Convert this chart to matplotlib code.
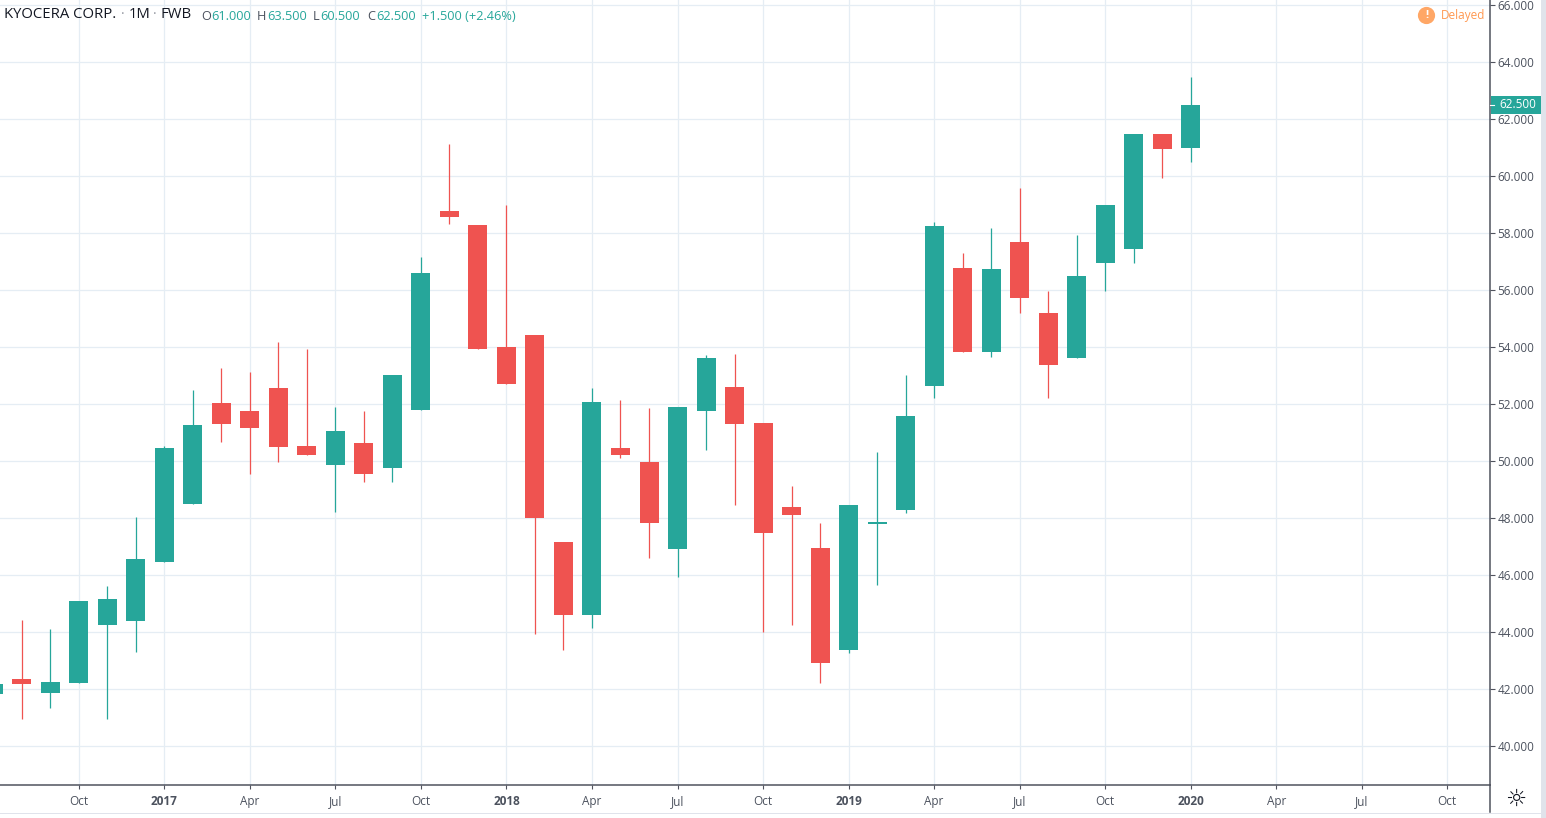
import matplotlib
matplotlib.use("Agg")
import matplotlib.pyplot as plt
from matplotlib.patches import Rectangle

plt.rcParams['font.family'] = ['Open Sans', 'DejaVu Sans']

W, H = 1546, 818
UP, DOWN = '#26a69a', '#ef5350'
GRID, INK, AXIS = '#e5edf4', '#4c525e', '#50535e'

months = list(range(-3, 40))
opens = [41.83, 42.37, 41.87, 42.23, 44.26, 44.40, 46.47, 48.51, 52.05, 51.77, 52.58, 50.54,
         49.87, 50.65, 49.77, 51.80, 58.79, 58.30, 54.02, 54.44, 47.17, 44.61, 50.47, 49.98,
         46.93, 51.77, 52.61, 51.35, 48.40, 46.96, 43.38, 47.80, 48.30, 52.65, 56.79, 53.84,
         57.70, 55.21, 53.63, 56.96, 57.45, 61.49, 60.98]
highs = [42.38, 44.44, 44.12, 45.10, 45.63, 48.05, 50.54, 52.51, 53.28, 53.14, 54.18, 53.94,
         51.91, 51.77, 53.03, 57.17, 61.14, 58.30, 58.98, 54.44, 47.17, 52.58, 52.16, 51.87,
         51.91, 53.73, 53.77, 51.35, 49.14, 47.84, 48.47, 50.33, 53.03, 58.40, 57.31, 58.19,
         59.59, 55.98, 57.94, 59.00, 61.49, 61.49, 63.5]
lows = [41.68, 40.96, 41.35, 42.23, 40.96, 43.31, 46.47, 48.51, 50.68, 49.56, 49.98, 50.23,
        48.23, 49.28, 49.28, 51.80, 58.33, 53.94, 52.72, 43.94, 43.38, 44.16, 50.12, 46.61,
        45.94, 50.40, 48.47, 44.02, 44.26, 42.23, 43.28, 45.66, 48.18, 52.23, 53.84, 53.66,
        55.21, 52.23, 53.63, 55.98, 56.96, 59.94, 60.5]
closes = [42.18, 42.19, 42.26, 45.10, 45.17, 46.58, 50.47, 51.28, 51.31, 51.17, 50.51, 50.23,
          51.07, 49.56, 53.03, 56.61, 58.58, 53.94, 52.72, 48.02, 44.61, 52.09, 50.23, 47.84,
          51.91, 53.63, 51.31, 47.49, 48.12, 42.93, 48.47, 47.88, 51.59, 58.26, 53.84, 56.75,
          55.73, 53.38, 56.51, 59.00, 61.49, 60.96, 62.5]

x_tick_pos = [0, 3, 6, 9, 12, 15, 18, 21, 24, 27, 30, 33, 36, 39, 42, 45, 48]
x_tick_labels = ['Oct', '2017', 'Apr', 'Jul', 'Oct', '2018', 'Apr', 'Jul', 'Oct',
                 '2019', 'Apr', 'Jul', 'Oct', '2020', 'Apr', 'Jul', 'Oct']
y_ticks = list(range(40, 68, 2))

fig = plt.figure(figsize=(W / 100, H / 100), dpi=100, facecolor='white')
ax = fig.add_axes([0, 1 - 785 / H, 1490 / W, 785 / H])

ax.set_axisbelow(True)
ax.grid(True, color=GRID, lw=0.9)
ax.set_xticks(x_tick_pos)
ax.set_xticklabels(x_tick_labels, fontsize=8.5, color=INK)
for lab, txt in zip(ax.get_xticklabels(), x_tick_labels):
    if txt.isdigit():
        lab.set_fontweight('bold')
ax.set_yticks(y_ticks)
ax.set_yticklabels([f'{v}.000' for v in y_ticks], fontsize=8.5, color=INK)
ax.yaxis.tick_right()
ax.tick_params(axis='x', length=3, width=0.8, color=AXIS, pad=4)
ax.tick_params(axis='y', length=3.5, width=0.8, color=AXIS, pad=2)
for s in ('top', 'left'):
    ax.spines[s].set_visible(False)
for s in ('right', 'bottom'):
    ax.spines[s].set_color(AXIS)
    ax.spines[s].set_linewidth(1.1)

colors = [UP if c >= o else DOWN for o, c in zip(opens, closes)]
ax.vlines(months, lows, highs, colors=colors, lw=0.9, zorder=3)
bottoms = [min(o, c) for o, c in zip(opens, closes)]
heights = [abs(c - o) for o, c in zip(opens, closes)]
ax.bar(months, heights, bottom=bottoms, width=19 / 28.51, color=colors, lw=0, zorder=4)

ax.set_xlim((0 - 78.8) / 28.51, (1490 - 78.8) / 28.51)
ax.set_ylim(62 - (785 - 119.4) / 28.5, 62 + 119.4 / 28.5)

def fx(px): return px / W
def fy(py): return 1 - py / H

# clipped label of the month left of the view
fig.text(fx(-6), fy(800), 'Jul', fontsize=8.5, color=INK, ha='center', va='center')

# legend row
fig.text(fx(4), fy(15), 'KYOCERA CORP.', fontsize=10.7, color='#131722', va='center')
fig.text(fx(129), fy(15), '1M', fontsize=10.7, color='#131722', va='center')
fig.text(fx(160.5), fy(15), 'FWB', fontsize=10.7, color='#131722', va='center')
fig.text(fx(121), fy(15), '·', fontsize=10, color='#9598a1', va='center')
fig.text(fx(153), fy(15), '·', fontsize=10, color='#9598a1', va='center')
row = [('O', 201.5), ('H', 257), ('L', 313), ('C', 367.5)]
vals = [('61.000', 211), ('63.500', 267), ('60.500', 320.5), ('62.500', 376.5)]
for t, x in row:
    fig.text(fx(x), fy(16), t, fontsize=9.2, color=INK, va='center')
for t, x in vals:
    fig.text(fx(x), fy(16), t, fontsize=9.2, color=UP, va='center')
fig.text(fx(422), fy(16), '+1.500 (+2.46%)', fontsize=9.2, color=UP, va='center')

# delayed badge
fig.text(fx(1426.5), fy(15.5), '!', fontsize=8, color='white', ha='center', va='center', fontweight='bold',
         bbox=dict(boxstyle='circle,pad=0.28', fc='#ffa766', ec='none'))
fig.text(fx(1441), fy(16), 'Delayed', fontsize=8.5, color='#ff9850', va='center')

# last price label
fig.add_artist(Rectangle((fx(1491), fy(113.5)), 50 / W, 17 / H, transform=fig.transFigure, fc=UP, ec='none'))
fig.add_artist(plt.Line2D([fx(1490), fx(1494)], [fy(105), fy(105)], color='white', lw=0.8))
fig.text(fx(1499), fy(104.5), '62.500', fontsize=8.5, color='white', va='center')

# corner separator and outer strips
fig.add_artist(plt.Line2D([fx(1490), fx(1490)], [fy(785), fy(812)], color=AXIS, lw=1.1))
fig.add_artist(Rectangle((fx(1541), 0), 5 / W, 1, transform=fig.transFigure, fc='#e0e3eb', ec='none'))
fig.add_artist(Rectangle((0, fy(814)), 1, 1.5 / H, transform=fig.transFigure, fc='#e0e3eb', ec='none'))
fig.text(fx(1515.5), fy(799), '\u263c', family='DejaVu Sans', fontsize=17, color='#131722', ha='center', va='center')

fig.savefig('out.png', dpi=100, facecolor='white')
